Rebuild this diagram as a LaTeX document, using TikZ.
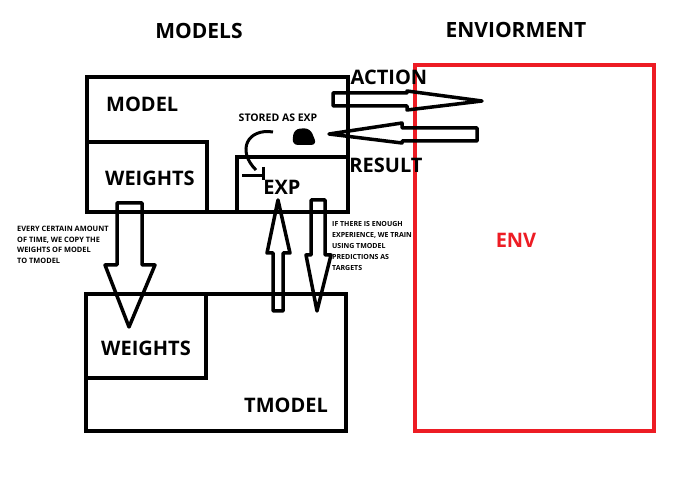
\documentclass[tikz,border=0pt]{standalone}
\usepackage{fontspec}
\setmainfont{Open Sans}
\definecolor{paintred}{HTML}{ED1C24}

\begin{document}
\begin{tikzpicture}[x=1pt,y=-1pt,
  box/.style={line width=4pt},
  blk/.style={line width=3.5pt,line join=round},
  lbl/.style={font=\fontsize{20}{24}\selectfont\bfseries,inner sep=0pt},
  title/.style={font=\fontsize{21}{25}\selectfont\bfseries,inner sep=0pt},
  note/.style={font=\fontsize{7.4}{10.7}\selectfont\bfseries,align=left,inner sep=0pt,anchor=north west}]
\useasboundingbox (0,0) rectangle (689,481);

% titles
\node[title] (models) at (199,31) {MODELS};
\node[title] (envior) at (516,30) {ENVIORMENT};

% environment
\draw[box, paintred] (415,65) rectangle (654,431);
\node[lbl, text=paintred] (env) at (516,240) {ENV};

% model with weights and experience
\draw[box] (87,77) rectangle (348,212);
\draw[box] (87,142) rectangle (207,212);
\draw[box] (237,157) rectangle (348,212);
\node[lbl, anchor=west] (model) at (106,104) {MODEL};
\node[lbl, anchor=west] (wtop) at (105,178) {WEIGHTS};
\node[lbl] (exp) at (282,187) {EXP};

% target model
\draw[box] (86,294) rectangle (346,431);
\draw[box] (86,294) rectangle (206,378);
\node[lbl] (wbot) at (146,348) {WEIGHTS};
\node[lbl] (tmodel) at (286,405) {TMODEL};

% action / result
\node[lbl] (action) at (389,77) {ACTION};
\node[lbl] (result) at (386,165) {RESULT};
\draw[blk] (333,93) -- (407,93) -- (407,91) -- (482,101) -- (407,110) -- (407,106) -- (333,106) -- cycle;
\draw[blk] (477,128) -- (402,128) -- (402,123) -- (329,134) -- (402,143) -- (402,141) -- (477,141) -- cycle;

% stored as exp
\node[font=\fontsize{10.5}{12}\selectfont\bfseries, inner sep=0pt] (stored) at (278,118) {STORED AS EXP};
\fill[rounded corners=6pt] (294,129) -- (310,128) -- (317,145) -- (292,145) -- cycle;
\draw[line width=3pt] (273,132) .. controls (248,128) and (236,150) .. (256,170);
\draw[line width=3pt] (242,176) -- (265,176);
\draw[line width=3pt] (263,167) -- (263,180);

% copy weights
\draw[blk] (117,203) -- (142,203) -- (142,265) -- (155,265) -- (129,327) -- (105,265) -- (117,265) -- cycle;
\node[note] (copy) at (17,226) {EVERY CERTAIN AMOUNT\\OF TIME, WE COPY THE\\WEIGHTS OF MODEL\\TO TMODEL};

% train
\draw[blk] (273,311) -- (283,311) -- (283,253) -- (290,253) -- (278,200) -- (267,253) -- (273,253) -- cycle;
\draw[blk] (311,200) -- (325,200) -- (325,255) -- (331,255) -- (317,311) -- (306,255) -- (311,255) -- cycle;
\node[note, font=\fontsize{7}{11}\selectfont\bfseries] (train) at (332,221) {IF THERE IS ENOUGH\\EXPERIENCE, WE TRAIN\\USING TMODEL\\PREDICTIONS AS\\TARGETS};
\end{tikzpicture}
\end{document}
